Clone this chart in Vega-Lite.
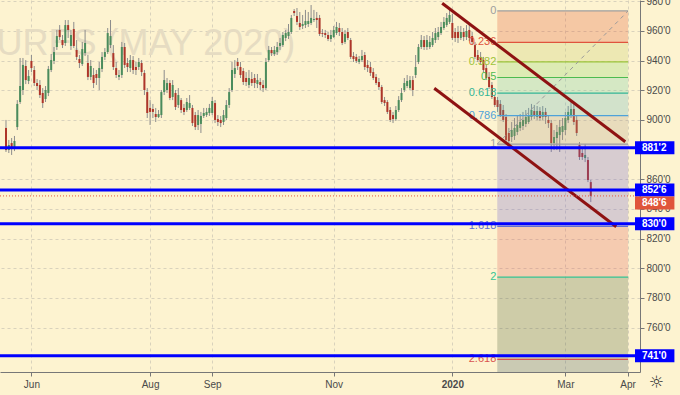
{
"$schema": "https://vega.github.io/schema/vega-lite/v6.json",
"width": 640, "height": 372,
"autosize": "none",
"padding": {"left": 0, "top": 0, "right": 40, "bottom": 23},
"background": "#fdf3d0",
"config": {"view": {"stroke": null}, "axis": {"labelFont": "Liberation Sans", "labelOverlap": false}, "text": {"font": "Liberation Sans"}},
"datasets": {
"candles": [
{"i":0,"o":894.6,"h":900.0,"l":878.4,"c":879.7},
{"i":1,"o":879.7,"h":886.5,"l":877.7,"c":883.1},
{"i":2,"o":884.4,"h":887.8,"l":876.4,"c":880.4},
{"i":3,"o":880.4,"h":889.2,"l":879.0,"c":885.8},
{"i":4,"o":895.2,"h":913.4,"l":893.2,"c":910.8},
{"i":5,"o":912.1,"h":941.8,"l":910.8,"c":922.9},
{"i":6,"o":920.2,"h":941.8,"l":916.8,"c":937.1},
{"i":7,"o":936.4,"h":940.4,"l":924.2,"c":926.9},
{"i":8,"o":926.3,"h":933.7,"l":924.2,"c":929.6},
{"i":9,"o":939.8,"h":943.8,"l":932.3,"c":935.0},
{"i":10,"o":933.7,"h":936.4,"l":922.9,"c":924.9},
{"i":11,"o":924.9,"h":927.6,"l":920.2,"c":922.9},
{"i":12,"o":923.6,"h":926.9,"l":914.8,"c":916.8},
{"i":13,"o":918.2,"h":921.5,"l":908.1,"c":911.4},
{"i":14,"o":914.1,"h":922.9,"l":912.1,"c":920.2},
{"i":15,"o":918.2,"h":936.4,"l":916.1,"c":934.4},
{"i":16,"o":933.7,"h":944.5,"l":932.3,"c":940.4},
{"i":17,"o":939.8,"h":949.2,"l":937.7,"c":945.8},
{"i":18,"o":949.2,"h":960.7,"l":947.2,"c":956.6},
{"i":19,"o":960.7,"h":964.0,"l":953.9,"c":955.9},
{"i":20,"o":953.9,"h":957.3,"l":948.5,"c":950.5},
{"i":21,"o":951.9,"h":967.4,"l":949.9,"c":964.0},
{"i":22,"o":964.0,"h":967.4,"l":955.3,"c":960.7},
{"i":23,"o":949.9,"h":960.7,"l":947.2,"c":957.3},
{"i":24,"o":961.3,"h":966.1,"l":948.5,"c":949.9},
{"i":25,"o":947.2,"h":953.9,"l":940.4,"c":942.5},
{"i":26,"o":941.1,"h":943.8,"l":935.0,"c":938.4},
{"i":27,"o":937.7,"h":952.6,"l":936.4,"c":947.8},
{"i":28,"o":945.1,"h":960.7,"l":943.1,"c":951.9},
{"i":29,"o":938.4,"h":943.8,"l":926.9,"c":929.0},
{"i":30,"o":929.0,"h":940.4,"l":926.9,"c":936.4},
{"i":31,"o":930.3,"h":935.0,"l":921.5,"c":924.9},
{"i":32,"o":931.0,"h":933.7,"l":923.6,"c":928.3},
{"i":33,"o":928.3,"h":939.1,"l":920.2,"c":935.0},
{"i":34,"o":934.4,"h":945.8,"l":932.3,"c":942.5},
{"i":35,"o":942.5,"h":948.5,"l":940.4,"c":945.8},
{"i":36,"o":945.8,"h":962.0,"l":944.5,"c":958.6},
{"i":37,"o":950.5,"h":967.4,"l":948.5,"c":956.6},
{"i":38,"o":945.1,"h":950.5,"l":933.7,"c":935.7},
{"i":39,"o":935.0,"h":939.1,"l":928.3,"c":930.3},
{"i":40,"o":929.0,"h":933.7,"l":926.9,"c":930.3},
{"i":41,"o":930.3,"h":952.6,"l":928.3,"c":949.2},
{"i":42,"o":949.2,"h":951.9,"l":935.0,"c":937.1},
{"i":43,"o":938.4,"h":941.8,"l":932.3,"c":935.7},
{"i":44,"o":935.0,"h":943.8,"l":932.3,"c":940.4},
{"i":45,"o":940.4,"h":943.1,"l":931.0,"c":933.7},
{"i":46,"o":935.7,"h":939.1,"l":930.3,"c":933.7},
{"i":47,"o":935.7,"h":941.8,"l":933.7,"c":939.1},
{"i":48,"o":938.4,"h":940.4,"l":929.6,"c":932.3},
{"i":49,"o":931.7,"h":933.7,"l":916.8,"c":920.2},
{"i":50,"o":918.8,"h":921.5,"l":901.3,"c":904.7},
{"i":51,"o":908.1,"h":913.4,"l":896.6,"c":905.4},
{"i":52,"o":907.4,"h":910.8,"l":901.3,"c":905.4},
{"i":53,"o":904.0,"h":908.1,"l":898.6,"c":902.0},
{"i":54,"o":902.0,"h":906.7,"l":901.3,"c":904.0},
{"i":55,"o":903.3,"h":920.2,"l":901.3,"c":918.8},
{"i":56,"o":918.8,"h":933.7,"l":916.8,"c":926.9},
{"i":57,"o":920.2,"h":928.3,"l":918.2,"c":924.9},
{"i":58,"o":924.9,"h":926.9,"l":913.4,"c":914.8},
{"i":59,"o":915.5,"h":926.9,"l":913.4,"c":923.6},
{"i":60,"o":918.2,"h":920.2,"l":906.7,"c":908.7},
{"i":61,"o":910.1,"h":921.5,"l":908.1,"c":916.8},
{"i":62,"o":913.4,"h":914.8,"l":904.7,"c":906.7},
{"i":63,"o":908.1,"h":910.8,"l":903.3,"c":905.4},
{"i":64,"o":906.7,"h":914.8,"l":905.4,"c":912.1},
{"i":65,"o":908.1,"h":916.8,"l":906.7,"c":911.4},
{"i":66,"o":908.1,"h":910.1,"l":895.9,"c":897.9},
{"i":67,"o":903.3,"h":905.4,"l":893.2,"c":895.2},
{"i":68,"o":896.6,"h":906.7,"l":893.2,"c":903.3},
{"i":69,"o":897.3,"h":905.4,"l":891.2,"c":902.7},
{"i":70,"o":902.7,"h":908.1,"l":901.3,"c":904.7},
{"i":71,"o":903.3,"h":908.1,"l":902.0,"c":905.4},
{"i":72,"o":904.7,"h":910.8,"l":902.7,"c":908.1},
{"i":73,"o":904.7,"h":915.5,"l":903.3,"c":912.8},
{"i":74,"o":911.4,"h":913.4,"l":897.9,"c":900.0},
{"i":75,"o":900.6,"h":903.3,"l":895.9,"c":898.6},
{"i":76,"o":900.0,"h":902.7,"l":895.2,"c":897.9},
{"i":77,"o":898.6,"h":906.7,"l":896.6,"c":903.3},
{"i":78,"o":901.3,"h":913.4,"l":900.0,"c":910.1},
{"i":79,"o":910.1,"h":921.5,"l":908.1,"c":918.8},
{"i":80,"o":920.2,"h":939.1,"l":918.8,"c":933.7},
{"i":81,"o":931.0,"h":940.4,"l":928.3,"c":935.0},
{"i":82,"o":939.1,"h":941.8,"l":933.7,"c":936.4},
{"i":83,"o":935.7,"h":939.1,"l":928.3,"c":930.3},
{"i":84,"o":933.0,"h":935.0,"l":923.6,"c":925.6},
{"i":85,"o":928.3,"h":932.3,"l":922.9,"c":925.6},
{"i":86,"o":923.6,"h":933.7,"l":921.5,"c":928.3},
{"i":87,"o":927.6,"h":932.3,"l":922.9,"c":924.9},
{"i":88,"o":928.3,"h":931.0,"l":921.5,"c":924.9},
{"i":89,"o":924.2,"h":931.0,"l":921.5,"c":926.9},
{"i":90,"o":925.6,"h":928.3,"l":920.2,"c":923.6},
{"i":91,"o":923.6,"h":926.9,"l":918.8,"c":921.5},
{"i":92,"o":921.5,"h":941.8,"l":920.2,"c":939.1},
{"i":93,"o":940.4,"h":949.9,"l":939.1,"c":947.2},
{"i":94,"o":947.2,"h":949.2,"l":943.1,"c":945.1},
{"i":95,"o":944.5,"h":949.9,"l":943.1,"c":947.2},
{"i":96,"o":945.8,"h":952.6,"l":943.8,"c":949.2},
{"i":97,"o":949.9,"h":955.3,"l":947.2,"c":951.9},
{"i":98,"o":950.5,"h":959.3,"l":949.2,"c":957.3},
{"i":99,"o":955.3,"h":960.7,"l":953.2,"c":958.6},
{"i":100,"o":956.6,"h":964.7,"l":954.6,"c":959.3},
{"i":101,"o":959.3,"h":970.8,"l":958.0,"c":968.8},
{"i":102,"o":973.5,"h":974.8,"l":970.1,"c":972.1},
{"i":103,"o":970.1,"h":975.5,"l":964.0,"c":966.1},
{"i":104,"o":965.4,"h":972.8,"l":960.7,"c":962.7},
{"i":105,"o":963.4,"h":970.8,"l":961.3,"c":964.7},
{"i":106,"o":964.0,"h":974.2,"l":962.0,"c":966.7},
{"i":107,"o":964.7,"h":972.8,"l":962.7,"c":966.7},
{"i":108,"o":965.4,"h":977.5,"l":964.0,"c":968.8},
{"i":109,"o":967.4,"h":974.2,"l":966.1,"c":968.1},
{"i":110,"o":968.8,"h":972.8,"l":962.0,"c":967.4},
{"i":111,"o":968.8,"h":970.8,"l":956.6,"c":958.0},
{"i":112,"o":958.6,"h":961.3,"l":955.9,"c":958.0},
{"i":113,"o":958.6,"h":960.7,"l":955.3,"c":957.3},
{"i":114,"o":957.3,"h":959.3,"l":953.2,"c":954.6},
{"i":115,"o":954.6,"h":960.7,"l":952.6,"c":957.3},
{"i":116,"o":955.9,"h":963.4,"l":955.3,"c":960.7},
{"i":117,"o":958.6,"h":966.1,"l":957.3,"c":962.7},
{"i":118,"o":962.0,"h":965.4,"l":956.6,"c":959.3},
{"i":119,"o":959.3,"h":962.0,"l":950.5,"c":951.9},
{"i":120,"o":952.6,"h":960.7,"l":951.2,"c":958.0},
{"i":121,"o":959.3,"h":962.0,"l":953.9,"c":955.3},
{"i":122,"o":953.9,"h":955.3,"l":941.1,"c":942.5},
{"i":123,"o":943.1,"h":945.8,"l":939.1,"c":941.1},
{"i":124,"o":942.5,"h":944.5,"l":938.4,"c":939.8},
{"i":125,"o":939.1,"h":943.1,"l":937.7,"c":941.1},
{"i":126,"o":940.4,"h":947.2,"l":939.1,"c":943.1},
{"i":127,"o":943.8,"h":945.8,"l":933.7,"c":935.7},
{"i":128,"o":937.1,"h":940.4,"l":932.3,"c":935.0},
{"i":129,"o":935.7,"h":939.1,"l":929.6,"c":931.7},
{"i":130,"o":932.3,"h":935.0,"l":926.9,"c":928.3},
{"i":131,"o":929.0,"h":931.0,"l":923.6,"c":924.9},
{"i":132,"o":925.6,"h":928.3,"l":920.2,"c":922.2},
{"i":133,"o":922.2,"h":923.6,"l":910.8,"c":912.1},
{"i":134,"o":913.4,"h":915.5,"l":909.4,"c":911.4},
{"i":135,"o":912.1,"h":913.4,"l":904.0,"c":905.4},
{"i":136,"o":906.7,"h":908.7,"l":898.6,"c":900.0},
{"i":137,"o":903.3,"h":905.4,"l":897.9,"c":900.6},
{"i":138,"o":900.6,"h":909.4,"l":899.3,"c":906.7},
{"i":139,"o":906.7,"h":916.1,"l":905.4,"c":913.4},
{"i":140,"o":913.4,"h":921.5,"l":912.1,"c":918.2},
{"i":141,"o":920.2,"h":928.3,"l":918.8,"c":924.9},
{"i":142,"o":922.9,"h":930.3,"l":921.5,"c":926.3},
{"i":143,"o":921.5,"h":929.6,"l":920.2,"c":926.9},
{"i":144,"o":926.9,"h":929.6,"l":916.1,"c":920.2},
{"i":145,"o":930.3,"h":943.8,"l":928.3,"c":935.7},
{"i":146,"o":939.1,"h":951.2,"l":937.7,"c":949.2},
{"i":147,"o":949.2,"h":957.3,"l":947.8,"c":953.9},
{"i":148,"o":953.9,"h":956.6,"l":947.2,"c":949.2},
{"i":149,"o":949.2,"h":957.3,"l":947.2,"c":953.9},
{"i":150,"o":949.2,"h":956.6,"l":947.8,"c":952.6},
{"i":151,"o":950.5,"h":959.3,"l":949.2,"c":955.3},
{"i":152,"o":953.9,"h":962.0,"l":951.9,"c":958.6},
{"i":153,"o":955.9,"h":962.7,"l":953.9,"c":959.3},
{"i":154,"o":958.6,"h":966.1,"l":957.3,"c":962.7},
{"i":155,"o":962.0,"h":969.4,"l":960.7,"c":966.1},
{"i":156,"o":964.0,"h":972.1,"l":962.7,"c":968.8},
{"i":157,"o":966.1,"h":974.2,"l":964.7,"c":970.8},
{"i":158,"o":965.4,"h":971.5,"l":953.9,"c":955.3},
{"i":159,"o":959.3,"h":962.0,"l":952.6,"c":955.3},
{"i":160,"o":959.3,"h":963.4,"l":951.9,"c":955.3},
{"i":161,"o":955.3,"h":963.4,"l":953.9,"c":959.3},
{"i":162,"o":959.3,"h":962.0,"l":953.2,"c":955.9},
{"i":163,"o":955.9,"h":964.0,"l":953.9,"c":960.0},
{"i":164,"o":960.7,"h":964.7,"l":953.2,"c":955.3},
{"i":165,"o":956.6,"h":959.3,"l":950.5,"c":952.6},
{"i":166,"o":950.5,"h":952.6,"l":941.1,"c":942.5},
{"i":167,"o":943.8,"h":947.2,"l":939.1,"c":940.4},
{"i":168,"o":942.5,"h":945.8,"l":937.1,"c":939.1},
{"i":169,"o":940.4,"h":942.5,"l":932.3,"c":933.7},
{"i":170,"o":935.0,"h":937.7,"l":926.9,"c":928.3},
{"i":171,"o":929.0,"h":932.3,"l":920.9,"c":922.2},
{"i":172,"o":923.6,"h":925.6,"l":914.1,"c":915.5},
{"i":173,"o":915.5,"h":916.8,"l":908.7,"c":910.1},
{"i":174,"o":913.4,"h":915.5,"l":905.4,"c":908.7},
{"i":175,"o":910.8,"h":913.4,"l":902.0,"c":903.3},
{"i":176,"o":906.7,"h":910.1,"l":898.6,"c":900.0},
{"i":177,"o":902.0,"h":904.0,"l":885.1,"c":886.5},
{"i":178,"o":891.2,"h":894.6,"l":883.1,"c":885.8},
{"i":179,"o":888.5,"h":898.6,"l":885.1,"c":893.2},
{"i":180,"o":889.2,"h":901.3,"l":886.5,"c":894.6},
{"i":181,"o":891.9,"h":903.3,"l":889.8,"c":896.6},
{"i":182,"o":894.6,"h":904.0,"l":892.5,"c":898.6},
{"i":183,"o":895.9,"h":905.4,"l":893.2,"c":900.0},
{"i":184,"o":897.3,"h":906.7,"l":895.2,"c":902.0},
{"i":185,"o":898.6,"h":908.1,"l":897.3,"c":903.3},
{"i":186,"o":902.0,"h":910.8,"l":900.0,"c":906.7},
{"i":187,"o":906.0,"h":910.1,"l":900.6,"c":903.3},
{"i":188,"o":902.0,"h":909.4,"l":900.0,"c":906.0},
{"i":189,"o":906.0,"h":908.7,"l":899.3,"c":901.3},
{"i":190,"o":902.0,"h":909.4,"l":900.0,"c":905.4},
{"i":191,"o":905.4,"h":908.1,"l":897.3,"c":902.0},
{"i":192,"o":900.0,"h":902.7,"l":894.6,"c":897.9},
{"i":193,"o":897.9,"h":900.0,"l":878.4,"c":884.4},
{"i":194,"o":884.4,"h":893.2,"l":879.7,"c":888.5},
{"i":195,"o":887.8,"h":896.6,"l":879.7,"c":891.9},
{"i":196,"o":889.8,"h":900.0,"l":878.4,"c":895.2},
{"i":197,"o":891.9,"h":901.3,"l":886.5,"c":895.9},
{"i":198,"o":893.2,"h":905.4,"l":889.8,"c":901.3},
{"i":199,"o":900.0,"h":909.4,"l":897.9,"c":905.4},
{"i":200,"o":903.3,"h":912.1,"l":901.3,"c":907.4},
{"i":201,"o":907.4,"h":910.8,"l":896.6,"c":898.6},
{"i":202,"o":900.0,"h":903.3,"l":889.2,"c":891.2},
{"i":203,"o":883.1,"h":885.1,"l":873.0,"c":875.0},
{"i":204,"o":877.7,"h":881.1,"l":873.0,"c":875.0},
{"i":205,"o":874.3,"h":883.8,"l":871.6,"c":876.4},
{"i":206,"o":873.0,"h":875.0,"l":858.1,"c":859.5},
{"i":207,"o":858.1,"h":859.5,"l":844.6,"c":848.75}
],
"fib": [
{"level":"0","price":973.5},{"level":"0.236","price":952.32},{"level":"0.382","price":939.22},{"level":"0.5","price":928.63},{"level":"0.618","price":918.03},{"level":"0.786","price":902.96},{"level":"1","price":883.75},{"level":"1.618","price":828.28},{"level":"2","price":794.0},{"level":"2.618","price":738.53}
],
"bands": [
{"band":"0-0.236","top":973.5,"bot":952.32},
{"band":"0.236-0.382","top":952.32,"bot":939.22},
{"band":"0.382-0.5","top":939.22,"bot":928.63},
{"band":"0.5-0.618","top":928.63,"bot":918.03},
{"band":"0.618-0.786","top":918.03,"bot":902.96},
{"band":"0.786-1","top":902.96,"bot":883.75},
{"band":"1-1.618","top":883.75,"bot":828.28},
{"band":"1.618-2","top":828.28,"bot":794.0},
{"band":"2-2.618","top":794.0,"bot":738.53},
{"band":"2.618-3.618","top":738.53,"bot":648.8}
],
"channel": [
{"i1":154.4,"p1":978.7,"i2":219.2,"p2":885.3},
{"i1":151.6,"p1":921.35,"i2":216.0,"p2":828.0}
],
"levels": [
{"price":881.25,"label":"881'2"},{"price":852.75,"label":"852'6"},{"price":830.0,"label":"830'0"},{"price":741.0,"label":"741'0"}
],
"last": [{"price":848.75,"label":"848'6"}]
},
"resolve": {"scale": {"color": "independent"}},
"layer": [
{
"data": {"values": [{"name": "SOYBEAN FUTURES (MAY 2020)"}]},
"mark": {"type": "text", "align": "right", "baseline": "alphabetic", "fontSize": 36, "color": "#e6dcc2", "clip": true},
"encoding": {
"x": {"datum": 102.4, "type": "quantitative"},
"y": {"datum": 943.8, "type": "quantitative"},
"text": {"field": "name"}
}
},
{
"data": {"name": "candles"},
"mark": {"type": "rule", "color": "#8c8c8c", "strokeWidth": 1},
"encoding": {
"x": {"field": "i", "type": "quantitative", "title": null,
"scale": {"domain": [-0.35, 222.65], "nice": false, "zero": false},
"axis": {"orient": "bottom", "values": [9, 51, 73, 116, 158, 198, 220], "tickCount": 30,
"labelExpr": "datum.value==9?'Jun':datum.value==51?'Aug':datum.value==73?'Sep':datum.value==116?'Nov':datum.value==158?'2020':datum.value==198?'Mar':'Apr'",
"grid": true, "gridDash": [3, 3], "gridColor": "#d9d2bc", "domainColor": "#777777", "tickColor": "#777777", "tickSize": 4,
"labelFontSize": 10, "labelColor": "#4a4a4a", "labelPadding": 3, "labelFlush": false, "labelOverlap": false, "title": null,
"labelFontWeight": {"condition": {"test": "datum.value == 158", "value": "bold"}, "value": "normal"}}},
"y": {"field": "l", "type": "quantitative", "title": null,
"scale": {"domain": [730, 980.9], "nice": false, "zero": false},
"axis": {"orient": "right", "values": [760, 780, 800, 820, 840, 860, 900, 920, 940, 960, 980], "tickCount": 30,
"labelExpr": "format(datum.value,'d') + \"'0\"",
"grid": true, "gridDash": [3, 3], "gridColor": "#d9d2bc", "domainColor": "#777777", "tickColor": "#777777", "tickSize": 4,
"labelFontSize": 10, "labelColor": "#4a4a4a", "labelPadding": 2, "labelOverlap": false, "labelFlush": false, "title": null}},
"y2": {"field": "h"}
}
},
{
"data": {"name": "candles"},
"mark": {"type": "bar", "size": 2},
"encoding": {
"x": {"field": "i", "type": "quantitative", "title": null},
"y": {"field": "o", "type": "quantitative", "title": null},
"y2": {"field": "c"},
"color": {"condition": {"test": "datum.c >= datum.o", "value": "#4a8c5c"}, "value": "#ae3529"}
}
},
{
"data": {"name": "bands"},
"mark": {"type": "rect", "opacity": 0.25, "clip": true},
"encoding": {
"x": {"datum": 173.9, "type": "quantitative"},
"x2": {"datum": 220.2},
"y": {"field": "top", "type": "quantitative", "title": null},
"y2": {"field": "bot"},
"color": {"field": "band", "type": "nominal", "legend": null,
"scale": {"domain": ["0-0.236","0.236-0.382","0.382-0.5","0.5-0.618","0.618-0.786","0.786-1","1-1.618","1.618-2","2-2.618","2.618-3.618"],
"range": ["#e14720","#c1c75c","#81d360","#61c7a0","#55afbc","#ad9780","#6957d0","#e15350","#455730","#354f5c"]}}
}
},
{
"data": {"name": "fib"},
"mark": {"type": "rule", "strokeWidth": 1.2},
"encoding": {
"x": {"datum": 173.9, "type": "quantitative"},
"x2": {"datum": 220.2},
"y": {"field": "price", "type": "quantitative", "title": null},
"color": {"field": "level", "type": "nominal", "legend": null,
"scale": {"domain": ["0","0.236","0.382","0.5","0.618","0.786","1","1.618","2","2.618"],
"range": ["#9e9e9e","#e0533d","#9cc43a","#4cbb50","#33b596","#4ea2d9","#9e9e9e","#5f6fd6","#35c493","#d9534f"]}}
}
},
{
"data": {"values": [{}]},
"mark": {"type": "rule", "color": "#9a9a9a", "strokeDash": [4, 4], "strokeWidth": 1},
"encoding": {
"x": {"datum": 173.9, "type": "quantitative"},
"y": {"datum": 883.75, "type": "quantitative"},
"x2": {"datum": 220.2},
"y2": {"datum": 973.5}
}
},
{
"data": {"name": "fib"},
"mark": {"type": "text", "align": "right", "baseline": "middle", "fontSize": 11, "dx": -1},
"encoding": {
"x": {"datum": 173.9, "type": "quantitative"},
"y": {"field": "price", "type": "quantitative", "title": null},
"text": {"field": "level"},
"color": {"field": "level", "type": "nominal", "legend": null,
"scale": {"domain": ["0","0.236","0.382","0.5","0.618","0.786","1","1.618","2","2.618"],
"range": ["#9e9e9e","#e0533d","#9cc43a","#4cbb50","#33b596","#4ea2d9","#9e9e9e","#5f6fd6","#35c493","#d9534f"]}}
}
},
{
"data": {"name": "channel"},
"mark": {"type": "rule", "color": "#8e1212", "strokeWidth": 3},
"encoding": {
"x": {"field": "i1", "type": "quantitative", "title": null},
"y": {"field": "p1", "type": "quantitative", "title": null},
"x2": {"field": "i2"},
"y2": {"field": "p2"}
}
},
{
"data": {"name": "levels"},
"mark": {"type": "rule", "color": "#0000ff", "strokeWidth": 3},
"encoding": {
"y": {"field": "price", "type": "quantitative", "title": null}
}
},
{
"data": {"name": "last"},
"mark": {"type": "rule", "color": "#e2583f", "strokeWidth": 1, "strokeDash": [1, 2]},
"encoding": {
"y": {"field": "price", "type": "quantitative", "title": null}
}
},
{
"data": {"name": "levels"},
"mark": {"type": "rule", "color": "#0000ff", "strokeWidth": 13, "strokeCap": "butt"},
"encoding": {
"x": {"datum": 222.65, "type": "quantitative"},
"x2": {"datum": 236.6},
"y": {"field": "price", "type": "quantitative", "title": null}
}
},
{
"data": {"name": "last"},
"mark": {"type": "rule", "color": "#e0553b", "strokeWidth": 13, "strokeCap": "butt", "yOffset": 7},
"encoding": {
"x": {"datum": 222.65, "type": "quantitative"},
"x2": {"datum": 236.6},
"y": {"field": "price", "type": "quantitative", "title": null}
}
},
{
"data": {"name": "levels"},
"mark": {"type": "text", "align": "left", "baseline": "middle", "fontSize": 10, "fontWeight": "bold", "color": "#ffffff"},
"encoding": {
"x": {"datum": 225.1, "type": "quantitative"},
"y": {"field": "price", "type": "quantitative", "title": null},
"text": {"field": "label"}
}
},
{
"data": {"name": "last"},
"mark": {"type": "text", "align": "left", "baseline": "middle", "fontSize": 10, "fontWeight": "bold", "color": "#ffffff", "dy": 7},
"encoding": {
"x": {"datum": 225.1, "type": "quantitative"},
"y": {"field": "price", "type": "quantitative", "title": null},
"text": {"field": "label"}
}
},
{
"data": {"values": [{"icon": "☼"}]},
"mark": {"type": "text", "align": "center", "baseline": "middle", "fontSize": 17, "font": "DejaVu Sans", "color": "#333333"},
"encoding": {
"x": {"datum": 230.3, "type": "quantitative"},
"y": {"datum": 722.6, "type": "quantitative"},
"text": {"field": "icon"}
}
}
]
}
